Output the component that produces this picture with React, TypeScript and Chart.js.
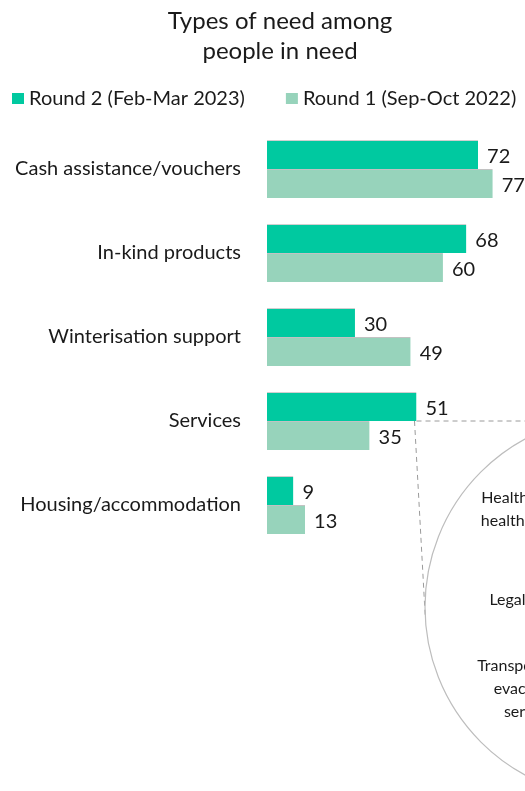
import React, { useEffect, useRef } from "react";
import { Chart, registerables } from "chart.js";

Chart.register(...registerables);

const categories = [
  "Cash assistance/vouchers",
  "In-kind products",
  "Winterisation support",
  "Services",
  "Housing/accommodation",
];
const round2Values = [72, 68, 30, 51, 9];
const round1Values = [77, 60, 49, 35, 13];
const seriesLabels = ["Round 2 (Feb-Mar 2023)", "Round 1 (Sep-Oct 2022)"];
const titleLines = ["Types of need among", "people in need"];
const servicesBreakdown = [
  ["Health/mental", "health support"],
  ["Legal advice"],
  ["Transportation/", "evacuation", "services"],
];

const FONT = "Lato, 'Noto Sans', sans-serif";
const TEXT = "#1a1a1a";
const GREEN = "#00c9a0";
const LIGHT = "#97d3bb";

const headerPlugin = {
  id: "header",
  afterDraw(chart: any) {
    const ctx = chart.ctx;
    ctx.save();
    ctx.fillStyle = TEXT;
    ctx.textAlign = "center";
    ctx.textBaseline = "middle";
    ctx.font = `24px ${FONT}`;
    titleLines.forEach((t, i) => ctx.fillText(t, 280, 21 + i * 30));
    // legend
    ctx.font = `20px ${FONT}`;
    ctx.textAlign = "left";
    let x = 12;
    chart.data.datasets.forEach((ds: any) => {
      ctx.fillStyle = ds.backgroundColor;
      ctx.fillRect(x, 93, 12, 11);
      ctx.fillStyle = TEXT;
      ctx.fillText(ds.label, x + 17, 99);
      x += 17 + ctx.measureText(ds.label).width + 41;
    });
    ctx.restore();
  },
};

const valueLabelPlugin = {
  id: "valueLabels",
  afterDatasetsDraw(chart: any) {
    const ctx = chart.ctx;
    ctx.save();
    ctx.fillStyle = TEXT;
    ctx.font = `20px ${FONT}`;
    ctx.textAlign = "left";
    ctx.textBaseline = "middle";
    chart.data.datasets.forEach((ds: any, di: number) => {
      const meta = chart.getDatasetMeta(di);
      meta.data.forEach((bar: any, i: number) => {
        ctx.fillText(String(ds.data[i]), bar.x + 9, bar.y + 2);
      });
    });
    ctx.restore();
  },
};

const calloutPlugin = {
  id: "callout",
  afterDatasetsDraw(chart: any) {
    const ctx = chart.ctx;
    const idx = categories.indexOf("Services");
    const bar: any = chart.getDatasetMeta(0).data[idx];
    if (!bar) return;
    const px = bar.x;
    const py = bar.y + bar.height / 2;
    const cx = chart.chartArea.right + 91;
    const cy = py + 186;
    const r = 191;
    ctx.save();
    ctx.strokeStyle = "#9a9a9a";
    ctx.lineWidth = 1;
    ctx.setLineDash([5, 4]);
    ctx.beginPath();
    ctx.moveTo(px, py);
    ctx.lineTo(chart.width, py);
    ctx.stroke();
    // tangent to circle
    const dx = px - 2 - cx;
    const dy = py - cy;
    const d = Math.sqrt(dx * dx + dy * dy);
    const th = Math.atan2(dy, dx);
    const a = Math.acos(r / d);
    const tx = cx + r * Math.cos(th - a);
    const ty = cy + r * Math.sin(th - a);
    ctx.beginPath();
    ctx.moveTo(px - 2, py);
    ctx.lineTo(tx, ty);
    ctx.stroke();
    ctx.setLineDash([]);
    ctx.strokeStyle = "#bdbdbd";
    ctx.lineWidth = 1.2;
    ctx.beginPath();
    ctx.arc(cx, cy, r, 0, Math.PI * 2);
    ctx.stroke();
    // texts
    ctx.fillStyle = TEXT;
    ctx.font = `16px ${FONT}`;
    ctx.textAlign = "center";
    ctx.textBaseline = "middle";
    const tcx = cx - 84;
    const blockTops = [cy - 109, cy - 7, cy + 59];
    servicesBreakdown.forEach((lines, bi) => {
      lines.forEach((ln, li) => {
        ctx.fillText(ln, tcx, blockTops[bi] + li * 23);
      });
    });
    ctx.restore();
  },
};

export default function App() {
  const ref = useRef<HTMLCanvasElement | null>(null);
  useEffect(() => {
    if (!ref.current) return;
    const chart = new Chart(ref.current, {
      type: "bar",
      data: {
        labels: categories,
        datasets: [
          {
            label: seriesLabels[0],
            data: round2Values,
            backgroundColor: GREEN,
            borderColor: "rgba(120,120,120,0.35)",
            borderWidth: { top: 1, right: 0, bottom: 0, left: 0 },
            borderSkipped: false,
          },
          {
            label: seriesLabels[1],
            data: round1Values,
            backgroundColor: LIGHT,
            borderColor: "rgba(120,120,120,0.45)",
            borderWidth: { top: 1, right: 0, bottom: 0, left: 0 },
            borderSkipped: false,
          },
        ],
      },
      options: {
        indexAxis: "y",
        animation: false,
        responsive: true,
        maintainAspectRatio: false,
        layout: { padding: { top: 127, bottom: 244, left: 0, right: 0 } },
        datasets: { bar: { categoryPercentage: 0.69, barPercentage: 1 } },
        plugins: {
          legend: { display: false },
          title: { display: false },
          tooltip: { enabled: false },
        },
        scales: {
          x: { display: false, min: 0, max: 88 },
          y: {
            grid: { display: false, drawTicks: false },
            border: { display: false },
            ticks: {
              color: TEXT,
              font: { family: FONT, size: 20 },
              padding: 26,
            },
            afterFit: (s: any) => {
              s.width = 267;
            },
          },
        },
      } as any,
      plugins: [headerPlugin, valueLabelPlugin, calloutPlugin],
    });
    return () => chart.destroy();
  }, []);
  return (
    <div style={{ position: "fixed", left: 0, top: 0, width: 525, height: 791, background: "#fff" }}>
      <canvas ref={ref} />
    </div>
  );
}
